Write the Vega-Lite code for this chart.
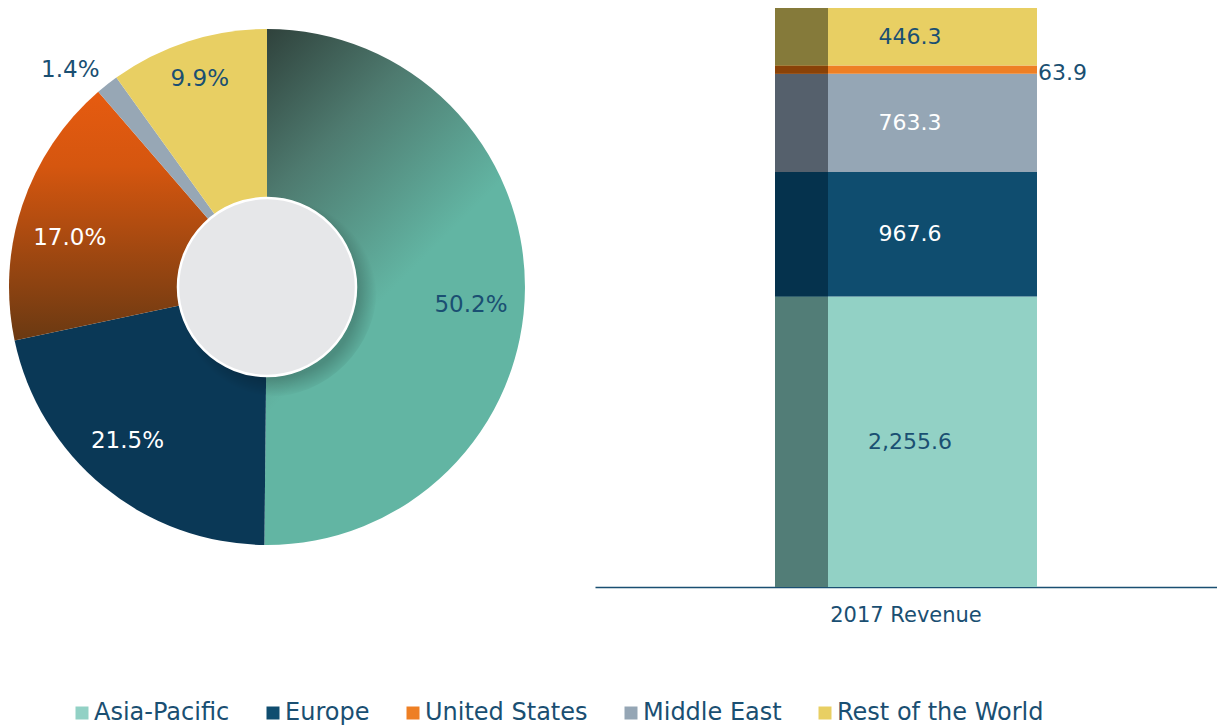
{
  "$schema": "https://vega.github.io/schema/vega-lite/v6.json",
  "padding": {"left": 5, "top": 8, "right": 0, "bottom": 0},
  "background": "white",
  "config": {"view": {"stroke": null}, "font": "DejaVu Sans"},
  "data": {"values": [
    {"series": "2017 Revenue", "region": "Asia-Pacific", "value": 2255.6, "share": 0.502, "order": 1},
    {"series": "2017 Revenue", "region": "Europe", "value": 967.6, "share": 0.215, "order": 2},
    {"series": "2017 Revenue", "region": "Middle East", "value": 763.3, "share": 0.170, "order": 3},
    {"series": "2017 Revenue", "region": "United States", "value": 63.9, "share": 0.014, "order": 4},
    {"series": "2017 Revenue", "region": "Rest of the World", "value": 446.3, "share": 0.099, "order": 5}
  ]},
  "spacing": 66,
  "hconcat": [
    {
      "width": 524,
      "height": 558,
      "encoding": {
        "theta": {"field": "value", "type": "quantitative", "stack": "zero"},
        "order": {"field": "order", "type": "quantitative"}
      },
      "layer": [
        {
          "mark": {"type": "arc", "radius": 258, "strokeWidth": 0},
          "encoding": {
            "fill": {
              "condition": [
                {"test": "datum.region === 'Asia-Pacific'", "value": {"gradient": "linear", "x1": 0, "y1": 0, "x2": 0.3, "y2": 0.6, "stops": [{"offset": 0, "color": "#2f413b"}, {"offset": 0.45, "color": "#4e7a6f"}, {"offset": 1, "color": "#62b5a3"}]}},
                {"test": "datum.region === 'Europe'", "value": "#0a3856"},
                {"test": "datum.region === 'Middle East'", "value": {"gradient": "linear", "x1": 0, "y1": 0, "x2": 0, "y2": 1, "stops": [{"offset": 0, "color": "#e65b10"}, {"offset": 0.3, "color": "#d5560f"}, {"offset": 1, "color": "#6a3912"}]}},
                {"test": "datum.region === 'United States'", "value": "#97a7b5"}
              ],
              "value": "#e8cf63"
            }
          }
        },
        {
          "data": {"values": [{"part": "shadow"}]},
          "mark": {"type": "arc", "radius": 110, "fill": {"gradient": "radial", "x1": 0.55, "y1": 0.55, "r1": 0, "x2": 0.55, "y2": 0.55, "r2": 0.45, "stops": [{"offset": 0, "color": "rgba(0,0,0,0.3)"}, {"offset": 0.8, "color": "rgba(0,0,0,0.22)"}, {"offset": 1, "color": "rgba(0,0,0,0)"}]}},
          "encoding": {"theta": {"value": 0}, "theta2": {"value": 6.2832}, "order": null}
        },
        {
          "data": {"values": [{"part": "hole"}]},
          "mark": {"type": "arc", "radius": 89, "fill": "#e6e7e9", "stroke": "white", "strokeWidth": 2.5},
          "encoding": {"theta": {"value": 0}, "theta2": {"value": 6.2832}, "order": null}
        },
        {
          "mark": {"type": "text", "radius": 206, "dx": -2, "dy": 17, "fontSize": 23, "font": "DejaVu Sans", "baseline": "middle"},
          "encoding": {
            "text": {"condition": {"test": "datum.region !== 'Asia-Pacific' && datum.region !== 'Middle East'", "value": ""}, "field": "share", "type": "quantitative", "format": ".1%"},
            "color": {"condition": {"test": "datum.region === 'Middle East'", "value": "white"}, "value": "#1a4f72"}
          }
        },
        {
          "mark": {"type": "text", "radius": 206, "dx": -9, "dy": -5, "fontSize": 23, "font": "DejaVu Sans", "baseline": "middle", "color": "white"},
          "encoding": {
            "text": {"condition": {"test": "datum.region !== 'Europe'", "value": ""}, "field": "share", "type": "quantitative", "format": ".1%"}
          }
        },
        {
          "mark": {"type": "text", "radius": 206, "dx": -4, "dy": -12, "fontSize": 23, "font": "DejaVu Sans", "baseline": "middle", "color": "#1a4f72"},
          "encoding": {
            "text": {"condition": {"test": "datum.region !== 'Rest of the World'", "value": ""}, "field": "share", "type": "quantitative", "format": ".1%"}
          }
        },
        {
          "mark": {"type": "text", "radius": 190, "dx": -79, "dy": -68, "fontSize": 23, "font": "DejaVu Sans", "baseline": "middle", "color": "#1a4f72"},
          "encoding": {
            "text": {"condition": {"test": "datum.region !== 'United States'", "value": ""}, "field": "share", "type": "quantitative", "format": ".1%"}
          }
        }
      ]
    },
    {
      "width": 622,
      "height": 579,
      "encoding": {
        "x": {"field": "series", "type": "nominal", "axis": {"title": null, "labelAngle": 0, "labelFontSize": 21, "labelColor": "#1a4f72", "labelFont": "DejaVu Sans", "ticks": false, "domainColor": "#1a4f72", "domainWidth": 1.5, "labelPadding": 17}},
        "y": {"field": "value", "type": "quantitative", "stack": "zero", "scale": {"domain": [0, 4496.7], "nice": false}, "axis": null},
        "order": {"field": "order", "type": "quantitative"}
      },
      "layer": [
        {
          "mark": {"type": "bar", "width": 262},
          "encoding": {
            "color": {
              "field": "region", "type": "nominal",
              "scale": {"domain": ["Asia-Pacific", "Europe", "United States", "Middle East", "Rest of the World"], "range": ["#92d1c5", "#0f4d6f", "#ee7f24", "#95a6b5", "#e8cf63"]},
              "legend": {"orient": "none", "legendX": 65, "legendY": 693, "direction": "horizontal", "columns": 5, "title": null, "symbolType": "square", "symbolSize": 169, "symbolStrokeWidth": 0, "labelFontSize": 24, "labelColor": "#1a4f72", "labelFont": "DejaVu Sans", "labelLimit": 400, "columnPadding": 31, "labelOffset": 0, "padding": 0}
            }
          }
        },
        {
          "mark": {"type": "bar", "width": 53, "xOffset": -104.5},
          "encoding": {
            "fill": {
              "field": "region", "type": "nominal",
              "scale": {"domain": ["Asia-Pacific", "Europe", "United States", "Middle East", "Rest of the World"], "range": ["#527d77", "#05324d", "#8a4207", "#55606c", "#857a3a"]},
              "legend": null
            }
          }
        },
        {
          "mark": {"type": "text", "fontSize": 22, "font": "DejaVu Sans", "baseline": "middle", "dx": 4},
          "encoding": {
            "y": {"field": "value", "type": "quantitative", "stack": "zero", "bandPosition": 0.5},
            "text": {"condition": {"test": "datum.region === 'United States'", "value": ""}, "field": "value", "type": "quantitative", "format": ",.1f"},
            "color": {"condition": {"test": "datum.region === 'Europe' || datum.region === 'Middle East'", "value": "white"}, "value": "#1a4f72"}
          }
        },
        {
          "mark": {"type": "text", "fontSize": 22, "font": "DejaVu Sans", "baseline": "middle", "align": "left", "dx": 132, "dy": 3, "color": "#1a4f72"},
          "encoding": {
            "y": {"field": "value", "type": "quantitative", "stack": "zero", "bandPosition": 0.5},
            "text": {"condition": {"test": "datum.region !== 'United States'", "value": ""}, "field": "value", "type": "quantitative", "format": ",.1f"}
          }
        }
      ]
    }
  ]
}
